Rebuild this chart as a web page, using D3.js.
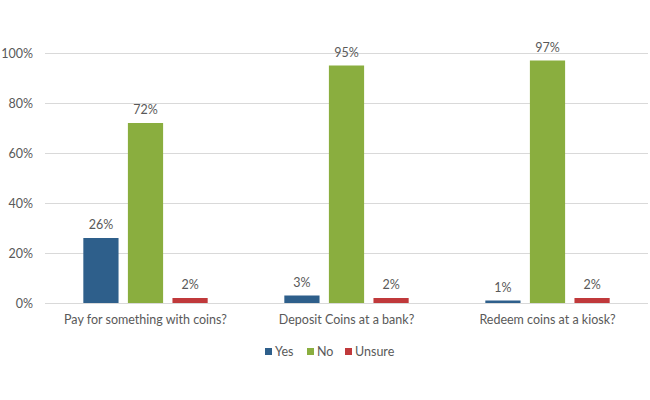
<!DOCTYPE html>
<html>
<head>
<meta charset="utf-8">
<script src="https://cdn.jsdelivr.net/npm/d3@7"></script>
<style>
  body { margin: 0; background: #fff; }
  svg text { font-family: Lato, "Open Sans", sans-serif; fill: #595959; }
</style>
</head>
<body>
<div id="chart"></div>
<script>
var categories = ["Pay for something with coins?", "Deposit Coins at a bank?", "Redeem coins at a kiosk?"];
var seriesNames = ["Yes", "No", "Unsure"];
var yesValues = [26, 3, 1];
var noValues = [72, 95, 97];
var unsureValues = [2, 2, 2];
var yTicks = [0, 20, 40, 60, 80, 100];
var colors = ["#2e5f8b", "#8aae3f", "#c0393b"];

function init() {
    var w = 650, h = 400;
    var left = 45, right = 648, top = 53, bottom = 303;

    var series = [yesValues, noValues, unsureValues];

    var x0 = d3.scaleBand()
               .domain(categories)
               .range([left, right])
               .padding(0);

    var x1 = d3.scaleBand()
               .domain(seriesNames)
               .range([0, x0.bandwidth()])
               .paddingInner(0.21)
               .paddingOuter(0.86);

    var y = d3.scaleLinear()
              .domain([0, 100])
              .range([bottom, top]);

    var color = d3.scaleOrdinal().domain(seriesNames).range(colors);

    var svg = d3.select("#chart")
                .append("svg")
                .attr("width", w)
                .attr("height", h);

    // gridlines
    svg.append("g")
       .selectAll("line")
       .data(yTicks)
       .enter()
       .append("line")
       .attr("x1", left)
       .attr("x2", right)
       .attr("y1", function(d) { return Math.round(y(d)) + 0.5; })
       .attr("y2", function(d) { return Math.round(y(d)) + 0.5; })
       .attr("stroke", "#d9d9d9")
       .attr("stroke-width", 1);

    // y axis labels
    var yAxis = d3.axisLeft(y)
                  .tickValues(yTicks)
                  .tickSize(0)
                  .tickPadding(12)
                  .tickFormat(function(d) { return d + "%"; });
    var yg = svg.append("g")
                .attr("transform", "translate(" + left + ",0)")
                .call(yAxis);
    yg.select(".domain").remove();
    yg.selectAll("text").style("font-size", "12.5px").attr("fill", "#595959");

    // x axis labels
    var xAxis = d3.axisBottom(x0).tickSize(0).tickPadding(12);
    var xg = svg.append("g")
                .attr("transform", "translate(0," + bottom + ")")
                .call(xAxis);
    xg.select(".domain").remove();
    xg.selectAll("text").style("font-size", "12.5px").attr("fill", "#595959");

    var rows = categories.map(function(c, i) {
        return seriesNames.map(function(s, j) {
            return { cat: c, name: s, value: series[j][i] };
        });
    });

    var groups = svg.append("g")
                    .selectAll("g")
                    .data(rows)
                    .enter()
                    .append("g")
                    .attr("transform", function(d, i) {
                        return "translate(" + x0(categories[i]) + ",0)";
                    });

    groups.selectAll("rect")
          .data(function(d) { return d; })
          .enter()
          .append("rect")
          .attr("x", function(d) { return x1(d.name); })
          .attr("y", function(d) { return y(d.value); })
          .attr("width", x1.bandwidth())
          .attr("height", function(d) { return y(0) - y(d.value); })
          .attr("fill", function(d) { return color(d.name); });

    groups.selectAll("text")
          .data(function(d) { return d; })
          .enter()
          .append("text")
          .text(function(d) { return d.value + "%"; })
          .attr("x", function(d) { return x1(d.name) + x1.bandwidth() / 2; })
          .attr("y", function(d) { return y(d.value) - 9; })
          .attr("text-anchor", "middle")
          .style("font-size", "12.5px");

    // legend
    var legendX = [265, 307, 345];
    var legend = svg.append("g")
                    .selectAll("g")
                    .data(seriesNames)
                    .enter()
                    .append("g")
                    .attr("transform", function(d, i) {
                        return "translate(" + legendX[i] + ",348)";
                    });
    legend.append("rect")
          .attr("width", 7)
          .attr("height", 7)
          .attr("fill", function(d) { return color(d); });
    legend.append("text")
          .text(function(d) { return d; })
          .attr("x", 10)
          .attr("y", 7.5)
          .style("font-size", "12.5px");
}
window.onload = init;
</script>
</body>
</html>
